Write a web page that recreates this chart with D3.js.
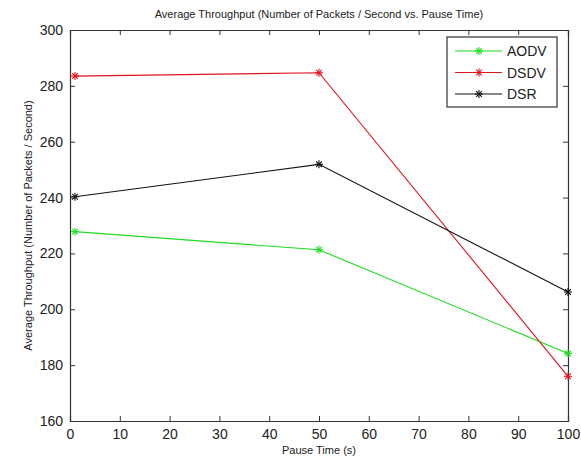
<!DOCTYPE html>
<html>
<head>
<meta charset="utf-8">
<script src="https://cdn.jsdelivr.net/npm/d3@7"></script>
<style>
  body { margin: 0; background: #fff; }
  text { font-family: "Liberation Sans", Arial, sans-serif; }
</style>
</head>
<body>
<div id="chart"></div>
<script>
// pause times and throughput per protocol
const pauseTimes = [1, 50, 100];
const aodv = [227.8, 221.3, 184.2];
const dsdv = [283.5, 284.7, 176.0];
const dsr = [240.3, 251.9, 206.2];
const seriesNames = ["AODV", "DSDV", "DSR"];
const seriesColors = ["#1fdc1f", "#e0141c", "#111111"];
const xTicks = [0, 10, 20, 30, 40, 50, 60, 70, 80, 90, 100];
const yTicks = [160, 180, 200, 220, 240, 260, 280, 300];

const width = 581, height = 459;
const margin = { top: 30, right: 13, bottom: 38, left: 70 };

const svg = d3.select("#chart").append("svg")
  .attr("width", width)
  .attr("height", height);

const x = d3.scaleLinear().domain([0, 100]).range([margin.left, width - margin.right]);
const y = d3.scaleLinear().domain([160, 300]).range([height - margin.bottom, margin.top]);

const axisColor = "#333";

// axes with inward ticks (matlab box style)
const axisBottomG = svg.append("g")
  .attr("transform", `translate(0,${y(160)})`)
  .call(d3.axisBottom(x).tickValues(xTicks).tickSize(-5).tickPadding(8));
const axisTopG = svg.append("g")
  .attr("transform", `translate(0,${y(300)})`)
  .call(d3.axisTop(x).tickValues(xTicks).tickSize(-5).tickFormat(""));
const axisLeftG = svg.append("g")
  .attr("transform", `translate(${x(0)},0)`)
  .call(d3.axisLeft(y).tickValues(yTicks).tickSize(-5).tickPadding(7));
const axisRightG = svg.append("g")
  .attr("transform", `translate(${x(100)},0)`)
  .call(d3.axisRight(y).tickValues(yTicks).tickSize(-5).tickFormat(""));

[axisBottomG, axisTopG, axisLeftG, axisRightG].forEach(g => {
  g.selectAll("path").attr("stroke", axisColor).attr("stroke-width", 1.2);
  g.selectAll("line").attr("stroke", axisColor);
  g.selectAll("text").attr("fill", "#222").style("font-size", "14px");
});

// series
const allSeries = [aodv, dsdv, dsr];
const line = d3.line().x((d, i) => x(pauseTimes[i])).y(d => y(d));

function star(g, cx, cy, color) {
  const r = 4;
  [0, 45, 90, 135].forEach(a => {
    const rad = a * Math.PI / 180;
    g.append("line")
      .attr("x1", cx - r * Math.cos(rad)).attr("y1", cy - r * Math.sin(rad))
      .attr("x2", cx + r * Math.cos(rad)).attr("y2", cy + r * Math.sin(rad))
      .attr("stroke", color).attr("stroke-width", 1.1);
  });
}

allSeries.forEach((vals, s) => {
  svg.append("path")
    .datum(vals)
    .attr("d", line)
    .attr("fill", "none")
    .attr("stroke", seriesColors[s])
    .attr("stroke-width", 1.1);
  const g = svg.append("g");
  vals.forEach((v, i) => star(g, x(pauseTimes[i]), y(v), seriesColors[s]));
});

// legend
const lg = svg.append("g").attr("transform", "translate(447,37)");
lg.append("rect")
  .attr("width", 110).attr("height", 70)
  .attr("fill", "#fff").attr("stroke", axisColor).attr("stroke-width", 1.2);
seriesNames.forEach((name, i) => {
  const ly = 14 + i * 21.5;
  lg.append("line")
    .attr("x1", 8).attr("x2", 55).attr("y1", ly).attr("y2", ly)
    .attr("stroke", seriesColors[i]).attr("stroke-width", 1.1);
  star(lg, 32, ly, seriesColors[i]);
  lg.append("text")
    .attr("x", 60).attr("y", ly + 5)
    .attr("fill", "#222")
    .style("font-size", "14px")
    .text(name);
});

// title and labels
svg.append("text")
  .attr("x", (x(0) + x(100)) / 2).attr("y", 18)
  .attr("text-anchor", "middle")
  .attr("fill", "#222")
  .style("font-size", "11px")
  .text("Average Throughput (Number of Packets / Second vs. Pause Time)");

svg.append("text")
  .attr("x", (x(0) + x(100)) / 2).attr("y", 454)
  .attr("text-anchor", "middle")
  .attr("fill", "#222")
  .style("font-size", "11px")
  .text("Pause Time (s)");

svg.append("text")
  .attr("transform", `translate(32,${(y(160) + y(300)) / 2}) rotate(-90)`)
  .attr("text-anchor", "middle")
  .attr("fill", "#222")
  .style("font-size", "11px")
  .text("Average Throughput (Number of Packets / Second)");
</script>
</body>
</html>
